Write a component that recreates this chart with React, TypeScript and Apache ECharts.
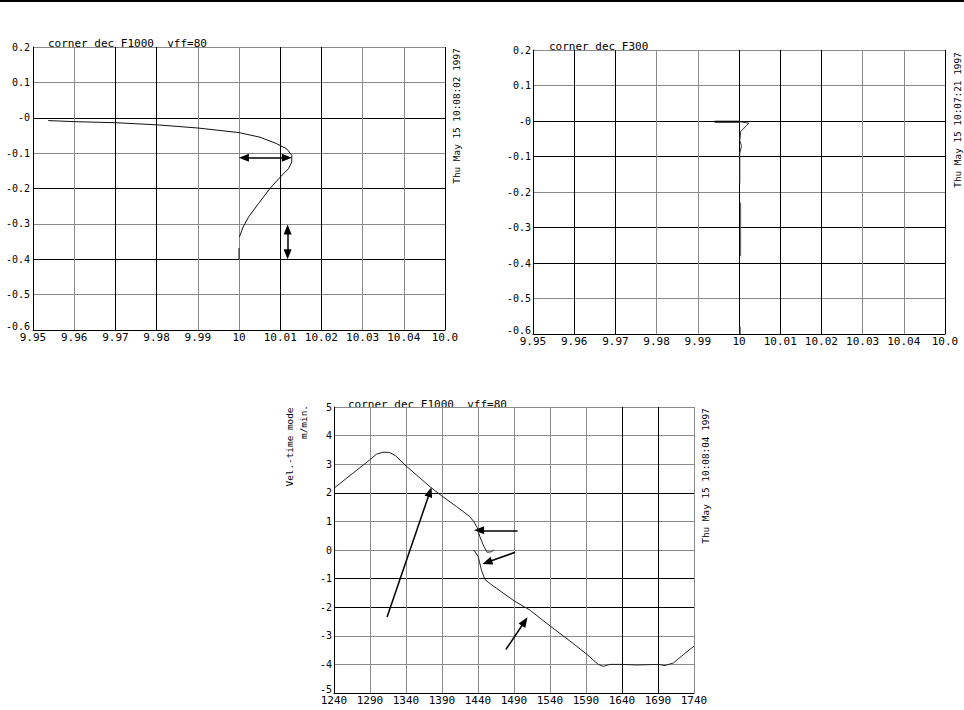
import React, { useEffect, useRef } from "react";
import * as echarts from "echarts";

// ---------- Panel 1: corner dec F1000 vff=80 (path) ----------
const p1CurveX = [9.9537, 9.96, 9.97, 9.98, 9.99, 10.0, 10.0051, 10.0091, 10.0116, 10.0128, 10.0128, 10.012, 10.01, 10.0075, 10.0047, 10.0023, 10.001, 10.0001];
const p1CurveY = [-0.008, -0.011, -0.014, -0.02, -0.029, -0.042, -0.055, -0.073, -0.088, -0.106, -0.125, -0.144, -0.168, -0.2, -0.243, -0.281, -0.309, -0.337];
const p1TailX = [10.0, 10.0];
const p1TailY = [-0.368, -0.4];
const p1ArrowH = [[10.0012, -0.113], [10.0116, -0.113]];
const p1ArrowV = [[10.0118, -0.316], [10.0118, -0.386]];

// ---------- Panel 2: corner dec F300 ----------
const p2ThickX = [9.9941, 10.0002];
const p2ThickY = [-0.002, -0.002];
const p2ThinX = [10.0002, 10.0024, 10.0004, 10.0002, 10.0006, 10.0002, 10.0002];
const p2ThinY = [-0.002, -0.006, -0.03, -0.055, -0.07, -0.09, -0.176];
const p2Seg2X = [10.0004, 10.0004];
const p2Seg2Y = [-0.23, -0.38];
const p2Seg3X = [10.0003, 10.0003];
const p2Seg3Y = [-0.58, -0.6];

// ---------- Panel 3: velocity vs time ----------
const p3UpperX = [1240, 1289.6, 1298.9, 1308.1, 1317.4, 1325.7, 1340.1, 1373, 1389.7, 1410.1, 1428.6, 1434.2, 1438.8, 1442.5, 1447.2, 1452.7, 1458.7, 1462];
const p3UpperY = [2.16, 3.15, 3.35, 3.42, 3.41, 3.29, 2.94, 2.22, 1.89, 1.52, 1.17, 0.99, 0.79, 0.47, 0.18, -0.08, -0.06, 0.0];
const p3LowerX = [1434.2, 1440.2, 1444.8, 1449.5, 1456.4, 1465.7, 1490.3, 1512, 1539.8, 1567.6, 1589.9, 1607, 1614, 1623.2, 1640.4, 1660.3, 1690.4, 1699.7, 1711.3, 1725.2, 1740];
const p3LowerY = [0.0, -0.23, -0.7, -1.03, -1.17, -1.34, -1.78, -2.1, -2.65, -3.18, -3.62, -4.0, -4.07, -4.0, -4.0, -4.02, -4.0, -4.04, -3.95, -3.66, -3.36];
const p3Arrows = [
  [[1313.7, -2.34], [1373.2, 2.03]],
  [[1494.9, 0.69], [1441.6, 0.69]],
  [[1491.6, -0.08], [1452.8, -0.43]],
  [[1478.7, -3.48], [1504.9, -2.5]],
];

// ---------- Tick labels ----------
const posXTicks = ["9.95", "9.96", "9.97", "9.98", "9.99", "10", "10.01", "10.02", "10.03", "10.04", "10.0"];
const posYTicks = ["-0.6", "-0.5", "-0.4", "-0.3", "-0.2", "-0.1", "-0", "0.1", "0.2"];
const timeXTicks = ["1240", "1290", "1340", "1390", "1440", "1490", "1540", "1590", "1640", "1690", "1740"];
const velYTicks = ["-5", "-4", "-3", "-2", "-1", "0", "1", "2", "3", "4", "5"];

// ---------- Texts ----------
const title1 = "corner dec F1000  vff=80";
const title2 = "corner dec F300";
const title3 = "corner dec F1000  vff=80";
const stamp1 = "Thu May 15 10:08:02 1997";
const stamp2 = "Thu May 15 10:07:21 1997";
const stamp3 = "Thu May 15 10:08:04 1997";
const yName3a = "Vel.-time mode";
const yName3b = "m/min.";

const K = "#000";
const G = "#8a8a8a";
const p1XGrid = [K, G, K, K, G, G, K, K, G, G, K];
const p1YGrid = [K, G, K, G, K, G, K, G, G];
const p2XGrid = [K, K, K, G, G, K, K, K, G, G, K];
const p2YGrid = [K, G, K, K, G, K, K, G, G];
const p3XGrid = [K, G, G, G, G, G, G, G, K, K, G];
const p3YGrid = [K, G, G, K, K, G, G, K, G, G, G];

const FONT = "'DejaVu Sans Mono', monospace";

const zip = (xs: number[], ys: number[]) => xs.map((x, i) => [x, ys[i]]);

function xAxis(grid: number, min: number, max: number, interval: number, labels: string[], colors: string[]) {
  return {
    type: "value",
    gridIndex: grid,
    min,
    max,
    interval,
    axisLine: { show: true, onZero: false, lineStyle: { color: "#000", width: 1 } },
    axisTick: { show: false },
    splitLine: { show: true, lineStyle: { color: colors, width: 1 } },
    axisLabel: {
      margin: 2,
      color: "#000",
      fontFamily: FONT,
      fontSize: 11,
      showMinLabel: true,
      showMaxLabel: true,
      formatter: (_v: number, i: number) => labels[i] ?? "",
    },
  };
}

function yAxis(grid: number, min: number, max: number, interval: number, labels: string[], colors: string[], margin: number) {
  return {
    type: "value",
    gridIndex: grid,
    min,
    max,
    interval,
    axisLine: { show: true, onZero: false, lineStyle: { color: "#000", width: 1 } },
    axisTick: { show: false },
    splitLine: { show: true, lineStyle: { color: colors, width: 1 } },
    axisLabel: {
      margin,
      color: "#000",
      fontFamily: FONT,
      fontSize: 10,
      showMinLabel: true,
      showMaxLabel: true,
      formatter: (_v: number, i: number) => (i === 0 ? `{lo|${labels[i]}}` : labels[i] ?? ""),
      rich: {
        lo: { fontFamily: FONT, fontSize: 10, color: "#000", padding: [0, 0, 8, 0] },
      },
    },
  };
}

function lineSeries(idx: number, data: number[][], width: number, color: string, extra: any = {}) {
  return {
    type: "line",
    xAxisIndex: idx,
    yAxisIndex: idx,
    data,
    showSymbol: false,
    symbol: "none",
    silent: true,
    lineStyle: { color, width },
    z: 5,
    ...extra,
  };
}

function arrowMarkLine(pairs: number[][][], symbols: string[], width: number) {
  return {
    silent: true,
    symbol: symbols,
    symbolSize: [8, 10],
    label: { show: false },
    lineStyle: { color: "#000", width, type: "solid" },
    emphasis: { disabled: true },
    data: pairs.map((p) => [{ coord: p[0] }, { coord: p[1] }]),
  };
}

function txt(text: string, x: number, y: number, size: number, align: string, rotation = 0) {
  return {
    type: "text",
    x,
    y,
    rotation,
    silent: true,
    style: {
      text,
      fill: "#000",
      font: `${size}px ${FONT}`,
      align,
      verticalAlign: "middle",
      textAlign: align,
      textVerticalAlign: "middle",
    },
  };
}

export default function App() {
  const ref = useRef<HTMLDivElement>(null);
  useEffect(() => {
    if (!ref.current) return;
    const chart = echarts.init(ref.current, null, { renderer: "svg" });
    const option: any = {
      animation: false,
      backgroundColor: "#fff",
      grid: [
        { left: 33, top: 47, width: 412, height: 283 },
        { left: 533, top: 50, width: 412, height: 284 },
        { left: 334, top: 407, width: 360, height: 286 },
      ],
      xAxis: [
        xAxis(0, 9.95, 10.05, 0.01, posXTicks, p1XGrid),
        xAxis(1, 9.95, 10.05, 0.01, posXTicks, p2XGrid),
        xAxis(2, 1240, 1740, 50, timeXTicks, p3XGrid),
      ],
      yAxis: [
        yAxis(0, -0.6, 0.2, 0.1, posYTicks, p1YGrid, 3),
        yAxis(1, -0.6, 0.2, 0.1, posYTicks, p2YGrid, 2),
        yAxis(2, -5, 5, 1, velYTicks, p3YGrid, 2),
      ],
      series: [
        lineSeries(0, zip(p1CurveX, p1CurveY), 1, "#111", {
          markLine: arrowMarkLine([p1ArrowH, p1ArrowV], ["triangle", "triangle"], 1.5),
        }),
        lineSeries(0, zip(p1TailX, p1TailY), 1, "#111"),
        lineSeries(1, zip(p2ThickX, p2ThickY), 2, "#000"),
        lineSeries(1, zip(p2ThinX, p2ThinY), 1, "#333"),
        lineSeries(1, zip(p2Seg2X, p2Seg2Y), 1, "#555"),
        lineSeries(1, zip(p2Seg3X, p2Seg3Y), 1, "#555"),
        lineSeries(2, zip(p3UpperX, p3UpperY), 1, "#222", {
          markLine: arrowMarkLine(p3Arrows, ["none", "triangle"], 1.5),
        }),
        lineSeries(2, zip(p3LowerX, p3LowerY), 1, "#222"),
      ],
      graphic: [
        { type: "rect", shape: { x: 0, y: 0, width: 964, height: 2 }, style: { fill: "#000" }, silent: true },
        txt(title1, 48, 43, 11, "left"),
        txt(title2, 549, 46, 11, "left"),
        txt(title3, 348, 404, 11, "left"),
        txt(stamp1, 456, 116, 9.4, "center", Math.PI / 2),
        txt(stamp2, 957, 120, 9.4, "center", Math.PI / 2),
        txt(stamp3, 705, 476, 9.4, "center", Math.PI / 2),
        txt(yName3a, 289, 447, 9.4, "center", Math.PI / 2),
        txt(yName3b, 303, 422, 9.4, "center", Math.PI / 2),
      ],
    };
    chart.setOption(option);
    return () => chart.dispose();
  }, []);
  return <div ref={ref} style={{ position: "absolute", left: 0, top: 0, width: 964, height: 710 }} />;
}
